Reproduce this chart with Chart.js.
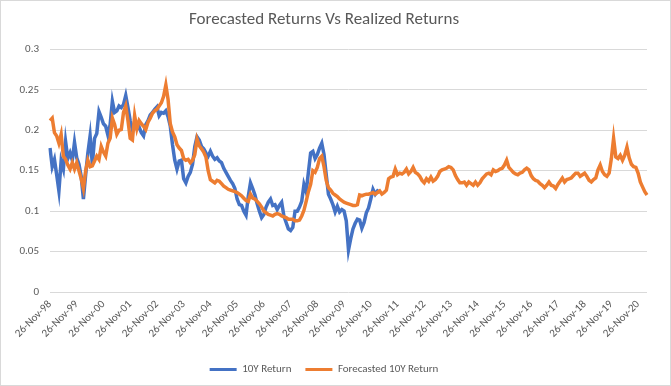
<!DOCTYPE html>
<html>
<head>
<meta charset="utf-8">
<script src="https://cdn.jsdelivr.net/npm/chart.js@4"></script>
<style>
	html, body { margin: 0; padding: 0; background: #fff; }
	#wrap { width: 671px; height: 386px; box-sizing: border-box; border: 1px solid #d9d9d9; }
</style>
</head>
<body>
<div id="wrap"><canvas id="c" width="669" height="384"></canvas></div>
<script>
// monthly readings, first point 26-Nov-98
const yearTicks = ['26-Nov-98', '26-Nov-99', '26-Nov-00', '26-Nov-01', '26-Nov-02', '26-Nov-03',
	'26-Nov-04', '26-Nov-05', '26-Nov-06', '26-Nov-07', '26-Nov-08', '26-Nov-09', '26-Nov-10',
	'26-Nov-11', '26-Nov-12', '26-Nov-13', '26-Nov-14', '26-Nov-15', '26-Nov-16', '26-Nov-17',
	'26-Nov-18', '26-Nov-19', '26-Nov-20'];

const realized = [
	0.178, 0.155, 0.164, 0.145, 0.125, 0.162, 0.152, 0.186, 0.165, 0.172, 0.163, 0.185,
	0.166, 0.158, 0.143, 0.115, 0.145, 0.172, 0.193, 0.158, 0.190, 0.196, 0.223, 0.216,
	0.208, 0.205, 0.194, 0.207, 0.236, 0.222, 0.224, 0.230, 0.228, 0.232, 0.243, 0.228,
	0.212, 0.201, 0.208, 0.202, 0.204, 0.197, 0.193, 0.207, 0.212, 0.219, 0.222, 0.226,
	0.229, 0.218, 0.222, 0.221, 0.224, 0.217, 0.205, 0.182, 0.163, 0.152, 0.162, 0.163,
	0.140, 0.135, 0.143, 0.148, 0.158, 0.180, 0.192, 0.188, 0.180, 0.177, 0.172, 0.168,
	0.174, 0.168, 0.164, 0.166, 0.162, 0.160, 0.153, 0.148, 0.143, 0.138, 0.134, 0.128,
	0.115, 0.108, 0.107, 0.100, 0.095, 0.118, 0.135, 0.128, 0.120, 0.109, 0.100, 0.092,
	0.096, 0.105, 0.111, 0.115, 0.107, 0.108, 0.102, 0.107, 0.111, 0.094, 0.086, 0.078,
	0.076, 0.080, 0.100, 0.100, 0.105, 0.112, 0.133, 0.124, 0.148, 0.172, 0.174, 0.165,
	0.170, 0.178, 0.184, 0.170, 0.145, 0.121, 0.115, 0.108, 0.099, 0.106, 0.099, 0.102,
	0.100, 0.088, 0.052, 0.066, 0.078, 0.085, 0.090, 0.089, 0.079, 0.086, 0.098, 0.104,
	0.115, 0.127, 0.121, 0.125, 0.123
];

const forecast = [
	0.212, 0.215, 0.197, 0.193, 0.184, 0.195, 0.168, 0.164, 0.157, 0.152, 0.160, 0.152,
	0.160, 0.150, 0.140, 0.128, 0.150, 0.163, 0.155, 0.156, 0.162, 0.168, 0.164, 0.180,
	0.173, 0.168, 0.184, 0.190, 0.215, 0.207, 0.195, 0.200, 0.201, 0.222, 0.230, 0.212,
	0.190, 0.188, 0.218, 0.202, 0.212, 0.208, 0.205, 0.201, 0.210, 0.215, 0.221, 0.224,
	0.226, 0.230, 0.234, 0.242, 0.256, 0.238, 0.208, 0.198, 0.192, 0.182, 0.178, 0.175,
	0.165, 0.163, 0.164, 0.160, 0.163, 0.170, 0.189, 0.181, 0.177, 0.173, 0.167, 0.150,
	0.139, 0.137, 0.135, 0.138, 0.137, 0.134, 0.131, 0.129, 0.127, 0.126, 0.125, 0.124,
	0.123, 0.121, 0.119, 0.116, 0.113, 0.112, 0.121, 0.116, 0.115, 0.112, 0.109, 0.105,
	0.100, 0.098, 0.096, 0.095, 0.094, 0.096, 0.097, 0.096, 0.094, 0.093, 0.092, 0.090,
	0.090, 0.090, 0.088, 0.088, 0.089, 0.094, 0.101, 0.112, 0.124, 0.133, 0.150, 0.148,
	0.154, 0.165, 0.168, 0.155, 0.138, 0.129, 0.126, 0.122, 0.120, 0.118, 0.115, 0.113,
	0.111, 0.110, 0.109, 0.108, 0.107, 0.107, 0.108, 0.120, 0.119, 0.120, 0.121, 0.121,
	0.122, 0.123, 0.121, 0.123, 0.125, 0.121, 0.123, 0.126, 0.140, 0.142, 0.143, 0.152,
	0.145, 0.147, 0.146, 0.148, 0.152, 0.146, 0.149, 0.154, 0.148, 0.146, 0.143, 0.138,
	0.135, 0.140, 0.137, 0.142, 0.137, 0.139, 0.143, 0.149, 0.151, 0.152, 0.153, 0.155,
	0.154, 0.151, 0.144, 0.139, 0.135, 0.135, 0.136, 0.132, 0.136, 0.134, 0.132, 0.136,
	0.132, 0.135, 0.140, 0.143, 0.146, 0.147, 0.145, 0.151, 0.149, 0.150, 0.152, 0.153,
	0.157, 0.163, 0.154, 0.151, 0.148, 0.146, 0.145, 0.147, 0.148, 0.151, 0.153, 0.151,
	0.144, 0.140, 0.138, 0.137, 0.134, 0.132, 0.129, 0.132, 0.136, 0.132, 0.131, 0.128,
	0.133, 0.137, 0.141, 0.136, 0.139, 0.140, 0.141, 0.144, 0.147, 0.147, 0.143, 0.145,
	0.147, 0.143, 0.138, 0.136, 0.139, 0.141, 0.151, 0.157, 0.149, 0.145, 0.143, 0.147,
	0.165, 0.190, 0.167, 0.165, 0.169, 0.163, 0.169, 0.179, 0.166, 0.158, 0.155, 0.154,
	0.147, 0.136, 0.130, 0.124, 0.120
];

// one category per month
const monthNames = ['Nov', 'Dec', 'Jan', 'Feb', 'Mar', 'Apr', 'May', 'Jun', 'Jul', 'Aug', 'Sep', 'Oct'];
const labels = forecast.map((_, i) => monthNames[i % 12] + '-' + (1998 + Math.floor((i + 10) / 12)));

const font = 'Calibri, Carlito, Lato, sans-serif';
Chart.defaults.font.family = font;
Chart.defaults.color = '#595959';

new Chart(document.getElementById('c'), {
	type: 'line',
	data: {
		labels: labels,
		datasets: [
			{
				label: '10Y Return',
				data: realized,
				borderColor: '#4472C4',
				backgroundColor: '#4472C4',
				borderWidth: 3.5,
				pointRadius: 0,
				order: 1,
			},
			{
				label: 'Forecasted 10Y Return',
				data: forecast,
				borderColor: '#ED7D31',
				backgroundColor: '#ED7D31',
				borderWidth: 3.5,
				pointRadius: 0,
				order: 0,
			},
		],
	},
	options: {
		responsive: false,
		animation: false,
		layout: {padding: {left: 0, right: 23, top: 0, bottom: 0}},
		plugins: {
			title: {
				display: true,
				text: 'Forecasted Returns Vs Realized Returns',
				color: '#595959',
				font: {size: 17, weight: 'normal'},
				padding: {top: 9, bottom: 19},
			},
			legend: {
				position: 'bottom',
				labels: {
					boxWidth: 27,
					boxHeight: 3,
					padding: 14,
					font: {size: 11},
					sort: (a, b) => a.datasetIndex - b.datasetIndex,
					generateLabels: chart => Chart.defaults.plugins.legend.labels.generateLabels(chart)
						.map(item => ({...item, fillStyle: item.strokeStyle, lineWidth: 0})),
				},
			},
			tooltip: {enabled: false},
		},
		scales: {
			x: {
				grid: {display: false, drawTicks: false},
				border: {display: false},
				afterBuildTicks: scale => {
					scale.ticks = scale.ticks.filter(t => t.value % 12 === 0);
				},
				afterFit: scale => {
					scale.height = 58;
				},
				ticks: {
					autoSkip: false,
					minRotation: 45,
					maxRotation: 45,
					padding: 6,
					font: {size: 11},
					callback: value => yearTicks[value / 12],
				},
			},
			y: {
				min: 0,
				max: 0.3,
				grid: {color: '#d9d9d9', drawTicks: false},
				border: {display: false},
				afterFit: scale => {
					scale.width = 49;
				},
				ticks: {
					stepSize: 0.05,
					padding: 11,
					font: {size: 11},
					callback: value => String(Number(value.toFixed(2))),
				},
			},
		},
	},
});
</script>
</body>
</html>
